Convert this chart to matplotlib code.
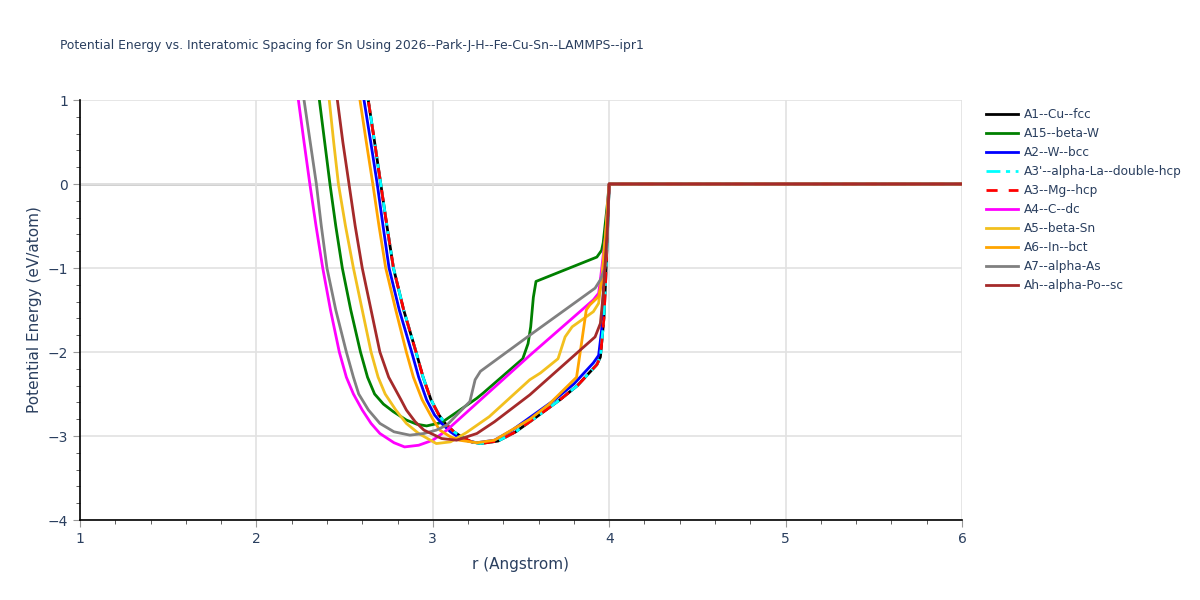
import matplotlib
matplotlib.use("Agg")
import matplotlib.pyplot as plt
from matplotlib.ticker import MultipleLocator

# values (r in Angstrom, E in eV/atom)
r_fcc = [2.60, 2.634, 2.67, 2.705, 2.74, 2.777, 2.835, 2.905, 2.945, 2.99, 3.035, 3.07, 3.12, 3.17,
         3.22, 3.27, 3.37, 3.47, 3.57, 3.72, 3.82, 3.93, 3.95, 3.97, 3.98, 3.995, 4.0, 6.0]
e_fcc = [1.5, 1.0, 0.5, 0.0, -0.5, -1.0, -1.5, -2.0, -2.3, -2.57, -2.75, -2.85, -2.95, -3.02,
         -3.07, -3.09, -3.06, -2.95, -2.8, -2.57, -2.4, -2.15, -2.06, -1.6, -1.14, -0.3, 0.0, 0.0]

r_bcc = [2.58, 2.61, 2.648, 2.685, 2.718, 2.752, 2.81, 2.88, 2.92, 2.965, 3.01, 3.05, 3.10, 3.15,
         3.20, 3.25, 3.35, 3.45, 3.55, 3.69, 3.8, 3.91, 3.94, 3.957, 3.97, 3.99, 4.0, 6.0]
e_bcc = [1.5, 1.0, 0.5, 0.0, -0.5, -1.0, -1.5, -2.0, -2.3, -2.57, -2.75, -2.85, -2.95, -3.02,
         -3.06, -3.08, -3.05, -2.93, -2.78, -2.57, -2.38, -2.13, -2.04, -1.74, -1.14, -0.4, 0.0, 0.0]

r_betaW = [2.33, 2.357, 2.387, 2.417, 2.45, 2.487, 2.535, 2.59, 2.63, 2.67, 2.72, 2.776, 2.85,
           2.91, 2.965, 3.05, 3.154, 3.25, 3.285, 3.51, 3.54, 3.555, 3.57, 3.585, 3.93, 3.957,
           3.966, 3.99, 4.0, 6.0]
e_betaW = [1.5, 1.0, 0.5, 0.0, -0.5, -1.0, -1.5, -2.0, -2.3, -2.5, -2.62, -2.71, -2.81,
           -2.86, -2.88, -2.84, -2.69, -2.55, -2.49, -2.08, -1.9, -1.7, -1.35, -1.16, -0.87, -0.79,
           -0.70, -0.23, 0.0, 0.0]

r_dc = [2.21, 2.238, 2.27, 2.303, 2.338, 2.376, 2.42, 2.47, 2.51, 2.55, 2.60, 2.65, 2.70, 2.78,
        2.84, 2.92, 3.0, 3.08, 3.154, 3.55, 3.91, 3.94, 3.95, 3.98, 4.0, 6.0]
e_dc = [1.5, 1.0, 0.5, 0.0, -0.5, -1.0, -1.5, -2.0, -2.3, -2.5, -2.69, -2.85, -2.97, -3.08,
        -3.13, -3.11, -3.05, -2.93, -2.79, -2.04, -1.38, -1.30, -1.14, -0.6, 0.0, 0.0]

r_betaSn = [2.39, 2.413, 2.438, 2.465, 2.505, 2.55, 2.60, 2.65, 2.69, 2.73, 2.79, 2.85, 2.92,
            3.02, 3.1, 3.19, 3.32, 3.55, 3.61, 3.71, 3.75, 3.79, 3.91, 3.94, 3.957, 3.98, 4.0, 6.0]
e_betaSn = [1.5, 1.0, 0.5, 0.0, -0.5, -1.0, -1.5, -2.0, -2.3, -2.5, -2.69, -2.85, -2.97,
            -3.09, -3.07, -2.96, -2.77, -2.33, -2.25, -2.08, -1.82, -1.70, -1.52, -1.42, -1.14,
            -0.6, 0.0, 0.0]

r_bct = [2.56, 2.587, 2.623, 2.66, 2.695, 2.733, 2.79, 2.85, 2.89, 2.94, 3.0, 3.04, 3.10, 3.15,
         3.25, 3.35, 3.55, 3.66, 3.815, 3.84, 3.87, 3.89, 3.94, 3.96, 3.985, 4.0, 6.0]
e_bct = [1.5, 1.0, 0.5, 0.0, -0.5, -1.0, -1.5, -2.0, -2.3, -2.57, -2.8, -2.93, -3.01, -3.05,
         -3.08, -3.05, -2.8, -2.62, -2.3, -1.94, -1.5, -1.44, -1.34, -1.14, -0.5, 0.0, 0.0]

r_as = [2.245, 2.27, 2.305, 2.34, 2.368, 2.40, 2.45, 2.51, 2.55, 2.58, 2.635, 2.70, 2.78, 2.87,
        2.95, 3.02, 3.08, 3.154, 3.21, 3.24, 3.27, 3.55, 3.92, 3.95, 3.976, 3.99, 4.0, 6.0]
e_as = [1.5, 1.0, 0.5, 0.0, -0.5, -1.0, -1.5, -2.0, -2.3, -2.5, -2.69, -2.85, -2.95, -2.99,
        -2.97, -2.93, -2.87, -2.71, -2.59, -2.33, -2.23, -1.80, -1.24, -1.14, -1.0, -0.63, 0.0, 0.0]

r_sc = [2.43, 2.459, 2.49, 2.525, 2.56, 2.60, 2.65, 2.70, 2.75, 2.82, 2.85, 2.90, 2.95, 3.05,
        3.135, 3.25, 3.35, 3.45, 3.55, 3.92, 3.95, 3.967, 3.99, 4.0, 6.0]
e_sc = [1.5, 1.0, 0.5, 0.0, -0.5, -1.0, -1.5, -2.0, -2.3, -2.57, -2.69, -2.83, -2.93, -3.03,
        -3.05, -2.97, -2.83, -2.67, -2.51, -1.82, -1.66, -1.30, -0.5, 0.0, 0.0]

fig = plt.figure(figsize=(12, 6), dpi=100)
ax = fig.add_axes([80 / 1200, 80 / 600, 882 / 1200, 420 / 600])

ax.plot(r_fcc, e_fcc, color="black", lw=2, label="A1--Cu--fcc")
ax.plot(r_betaW, e_betaW, color="green", lw=2, label="A15--beta-W")
ax.plot(r_bcc, e_bcc, color="blue", lw=2, label="A2--W--bcc")
ax.plot(r_fcc, e_fcc, color="cyan", lw=2, dashes=(5, 2, 1.5, 2), label="A3'--alpha-La--double-hcp")
ax.plot(r_fcc, e_fcc, color="red", lw=2, dashes=(4, 4), label="A3--Mg--hcp")
ax.plot(r_dc, e_dc, color="magenta", lw=2, label="A4--C--dc")
ax.plot(r_betaSn, e_betaSn, color="#f2c01e", lw=2, label="A5--beta-Sn")
ax.plot(r_bct, e_bct, color="orange", lw=2, label="A6--In--bct")
ax.plot(r_as, e_as, color="gray", lw=2, label="A7--alpha-As")
ax.plot(r_sc, e_sc, color="brown", lw=2, label="Ah--alpha-Po--sc")

ax.set_xlim(1, 6)
ax.set_ylim(-4, 1)
ax.axhline(0, color="#cccccc", lw=2, zorder=0)
ax.grid(True, color="#e2e2e2", lw=1.2, zorder=0)
ax.set_axisbelow(True)

for s in ["top", "right"]:
    ax.spines[s].set_visible(False)
for s in ["left", "bottom"]:
    ax.spines[s].set_color("black")
    ax.spines[s].set_linewidth(1.2)

ax.xaxis.set_minor_locator(MultipleLocator(0.2))
ax.yaxis.set_minor_locator(MultipleLocator(0.2))
ax.tick_params(which="major", length=5, color="#999999", labelcolor="#2a3f5f", labelsize=10, direction="out")
ax.tick_params(which="minor", length=3, color="#444444", direction="out")
ax.set_yticks([-4, -3, -2, -1, 0, 1])
ax.set_yticklabels(["\u22124", "\u22123", "\u22122", "\u22121", "0", "1"])

ax.set_xlabel("r (Angstrom)", fontsize=11, color="#2a3f5f", labelpad=8)
ax.set_ylabel("Potential Energy (eV/atom)", fontsize=11, color="#2a3f5f", labelpad=4)
fig.text(60 / 1200, 1 - 46 / 600, "Potential Energy vs. Interatomic Spacing for Sn Using 2026--Park-J-H--Fe-Cu-Sn--LAMMPS--ipr1",
         fontsize=8.9, color="#2a3f5f", va="center")

leg = ax.legend(loc="upper left", bbox_to_anchor=(1.018, 1.0), frameon=False, fontsize=8.7,
                handlelength=2.7, handletextpad=0.45, labelspacing=0.5, borderaxespad=0.25)
for t in leg.get_texts():
    t.set_color("#2a3f5f")

fig.savefig("out.png", dpi=100)
